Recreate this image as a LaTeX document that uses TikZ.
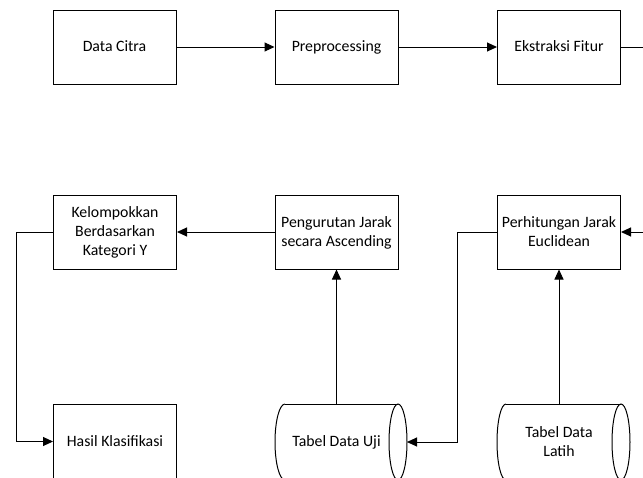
\documentclass[tikz,border=0pt]{standalone}
\usepackage{fontspec}
\setmainfont{Carlito}
\usetikzlibrary{arrows.meta}
\newcommand\lstrut{\rule[-5pt]{0pt}{19pt}}
\begin{document}
\begin{tikzpicture}[x=1pt,y=-1pt,
  every node/.style={font=\fontsize{15.8}{19}\selectfont, align=center, inner sep=0pt},
  pbox/.style={draw, line width=1pt, minimum width=123pt, minimum height=74pt},
  store/.style={minimum width=123pt, minimum height=76pt},
  conn/.style={line width=1pt},
  arr/.style={conn, -{Triangle[length=10pt,width=9pt]}},
  outline/.style={line width=1pt}]
\useasboundingbox (0,0) rectangle (643,477);
\clip (0,0) rectangle (643,477);
% top row
\node[pbox] (citra) at (114.5,47) {\lstrut Data Citra};
\node[pbox] (prep) at (336.5,47) {\lstrut Preprocessing};
\node[pbox] (ekstr) at (559,47) {\lstrut Ekstraksi Fitur};
% middle row
\node[pbox] (kel) at (115,232) {\lstrut Kelompokkan\\\lstrut Berdasarkan\\\lstrut Kategori Y};
\node[pbox] (peng) at (336.5,232) {\lstrut Pengurutan Jarak\\\lstrut secara Ascending};
\node[pbox] (perh) at (559,232) {\lstrut Perhitungan Jarak\\\lstrut Euclidean};
% bottom row
\node[pbox] (hasil) at (115,441.5) {\lstrut Hasil Klasifikasi};
\node[store] (uji) at (336.5,442) {\lstrut Tabel Data Uji};
\node[store] (latih) at (559,442) {\lstrut Tabel Data\\\lstrut Latih};
% storage outlines
\draw[outline] (285,404) -- (398,404);
\draw[outline] (285,404) arc[start angle=270, end angle=90, x radius=10, y radius=38];
\draw[outline] (398,442) ellipse [x radius=9, y radius=38];
\draw[outline] (506,404) -- (621,404);
\draw[outline] (506,404) arc[start angle=270, end angle=90, x radius=9, y radius=38];
\draw[outline] (621,442) ellipse [x radius=9, y radius=38];
\coordinate (ujiR) at (407,442);
\coordinate (out1) at (660,47);
\coordinate (in1) at (660,232);
% connectors
\draw[arr] (citra.east) -- (prep.west);
\draw[arr] (prep.east) -- (ekstr.west);
\draw[conn] (ekstr.east) -- (out1);
\draw[arr] (in1) -- (perh.east);
\draw[arr] (perh.west) -- ++(-40,0) |- (ujiR);
\draw[arr] (uji.north) -- (peng.south);
\draw[arr] (latih.north) -- (perh.south);
\draw[arr] (peng.west) -- (kel.east);
\draw[arr] (kel.west) -- ++(-37,0) |- (hasil.west);
\end{tikzpicture}
\end{document}
